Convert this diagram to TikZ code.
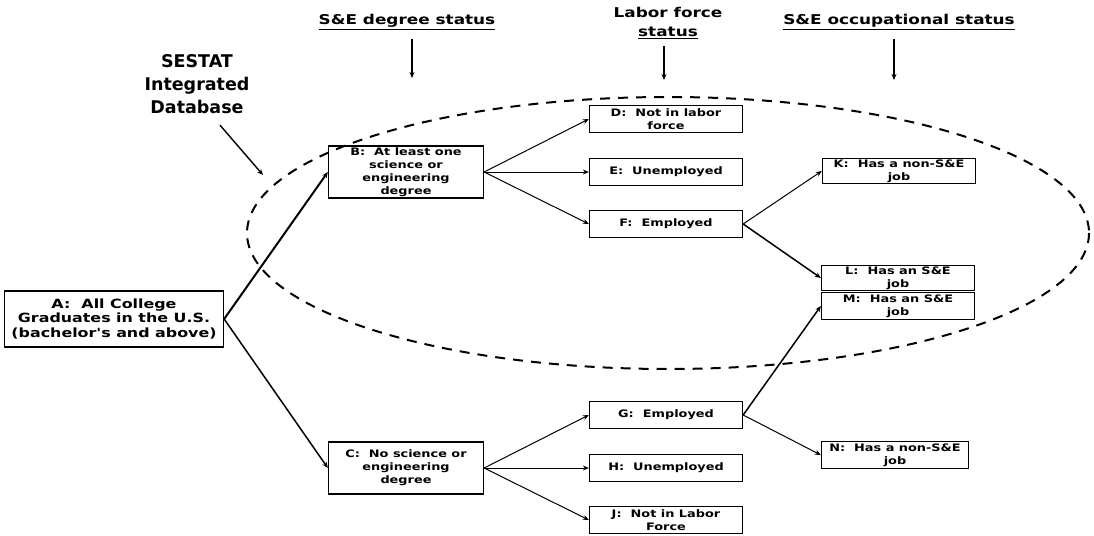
\documentclass[tikz,border=0pt]{standalone}
\usepackage{fontspec}
\setmainfont{DejaVu Sans}
\newfontfamily\widefont{DejaVu Sans}[FakeStretch=1.25]
\usetikzlibrary{arrows.meta}

\begin{document}
\begin{tikzpicture}[x=1pt,y=-1pt]
\tikzstyle{box}=[draw,line width=1.3pt,align=center,inner sep=0pt,font=\widefont\bfseries\fontsize{10.3}{13}\selectfont,minimum width=153pt,minimum height=27pt]
\tikzstyle{bigbox}=[box,minimum width=155pt,minimum height=52pt]
\tikzstyle{head}=[align=center,font=\widefont\bfseries\fontsize{13.5}{19}\selectfont]
\tikzstyle{link}=[line width=1pt,-{Stealth[length=6pt,width=5pt]}]
\useasboundingbox (0,0) rectangle (1094,535);

\node[head] at (407,22) (hdeg) {\underline{S\&E degree status}};
\node[head] at (668,23) (hlab) {Labor force\\\underline{status}};
\node[head] at (899,22) (hocc) {\underline{S\&E occupational status}};
\node[align=center,font=\bfseries\fontsize{17.5}{23}\selectfont] at (197,84) (sestat) {SESTAT\\Integrated\\Database};

\coordinate (tdeg) at (412,78);
\coordinate (tlab) at (664,80);
\coordinate (tocc) at (894,80);
\coordinate (tsestat) at (263,175);

\node[box,minimum width=219pt,minimum height=56pt,font=\widefont\bfseries\fontsize{12.7}{14.5}\selectfont] at (114,319) (a) {A:~ All College\\Graduates in the U.S.\\(bachelor's and above)};
\node[bigbox] at (406,172) (b) {B:~ At least one\\science or\\engineering\\degree};
\node[bigbox] at (406,468) (c) {C:~ No science or\\engineering\\degree};

\node[box] at (666,119) (d) {D:~ Not in labor\\force};
\node[box] at (666,172) (e) {E:~ Unemployed};
\node[box] at (666,224) (f) {F:~ Employed};
\node[box] at (666,415) (g) {G:~ Employed};
\node[box] at (666,468) (h) {H:~ Unemployed};
\node[box] at (666,520) (j) {J:~ Not in Labor\\Force};

\node[box,minimum height=25pt] at (899,171) (k) {K:~ Has a non-S\&E\\job};
\node[box,minimum height=25pt] at (898,278) (l) {L:~ Has an S\&E\\job};
\node[box,minimum height=27pt] at (898,306) (m) {M:~ Has an S\&E\\job};
\node[box,minimum height=27pt,minimum width=147pt] at (895,455) (n) {N:~ Has a non-S\&E\\job};

\draw[line width=2pt,dash pattern=on 10pt off 8pt] (668,233) ellipse [x radius=421, y radius=136];

\draw[link,line width=1.6pt] (hdeg.south) ++(5,6) -- (tdeg);
\draw[link,line width=1.6pt] (hlab.south) ++(-4,4) -- (tlab);
\draw[link,line width=1.6pt] (hocc.south) ++(-5,6) -- (tocc);
\draw[link,line width=1.4pt] (sestat.south) ++(23,8) -- (tsestat);

\draw[link,line width=2pt] (a.east) -- (b.west);
\draw[link,line width=1.5pt] (a.east) -- (c.west);

\draw[link] (b.east) -- (d.west);
\draw[link] (b.east) -- (e.west);
\draw[link] (b.east) -- (f.west);
\draw[link] (f.east) -- (k.west);
\draw[link,line width=1.5pt] (f.east) -- (l.west);

\draw[link] (c.east) -- (g.west);
\draw[link] (c.east) -- (h.west);
\draw[link] (c.east) -- (j.west);
\draw[link,line width=1.5pt] (g.east) -- (m.west);
\draw[link] (g.east) -- (n.west);
\end{tikzpicture}
\end{document}
